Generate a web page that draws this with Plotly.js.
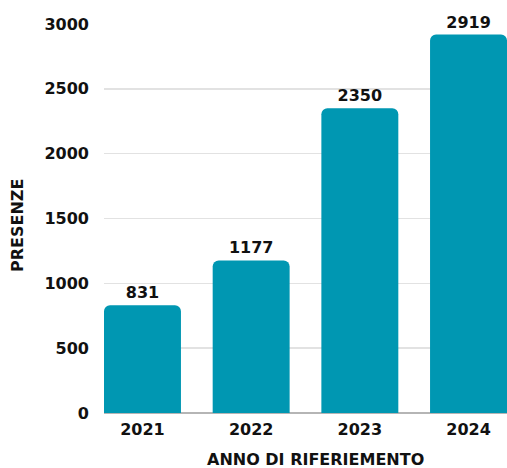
<!DOCTYPE html>
<html>
<head>
<meta charset="utf-8">
<script src="https://cdn.plot.ly/plotly-3.0.1.min.js"></script>
<style>html,body{margin:0;padding:0;background:#fff;}#chart{width:507px;height:468px;}</style>
</head>
<body>
<div id="chart"></div>
<script>
const years = ["2021", "2022", "2023", "2024"];
const presenze = [831, 1177, 2350, 2919];
const yTicks = [0, 500, 1000, 1500, 2000, 2500, 3000];
const xTitle = "ANNO DI RIFERIEMENTO";
const yTitle = "PRESENZE";

const FONT = {family: "'DejaVu Sans', Inter, sans-serif", size: 16, color: "#111", weight: 700};

const trace = {
  type: "bar",
  x: years,
  y: presenze,
  text: presenze.map(String),
  textposition: "outside",
  cliponaxis: false,
  textfont: FONT,
  marker: {color: "#0097B2", cornerradius: 6},
  hoverinfo: "none"
};

const layout = {
  width: 507, height: 468,
  margin: {l: 104, r: 0, t: 24, b: 55},
  paper_bgcolor: "#fff", plot_bgcolor: "#fff",
  bargap: 0.292,
  showlegend: false,
  font: FONT,
  xaxis: {
    type: "category",
    range: [-0.354, 3.354],
    showgrid: false,
    showline: false,
    ticks: "",
    ticklabelstandoff: 5,
    tickfont: FONT
  },
  yaxis: {
    range: [0, 3000],
    tickvals: yTicks,
    ticktext: yTicks.map(String),
    showgrid: true,
    gridcolor: "#e2e2e2",
    gridwidth: 1.5,
    zeroline: true,
    zerolinecolor: "#b5b5b5",
    zerolinewidth: 2,
    ticks: "",
    ticklabelstandoff: 14,
    tickfont: FONT
  },
  annotations: [
    {text: xTitle, xref: "paper", yref: "paper", x: 0.526, y: -0.1208,
     xanchor: "center", yanchor: "middle", showarrow: false, font: FONT},
    {text: yTitle, xref: "paper", yref: "paper", x: 0, y: 0.4807, xshift: -87,
     xanchor: "center", yanchor: "middle", textangle: -90, showarrow: false, font: FONT}
  ]
};

Plotly.newPlot("chart", [trace], layout, {displayModeBar: false, staticPlot: true});
</script>
</body>
</html>
